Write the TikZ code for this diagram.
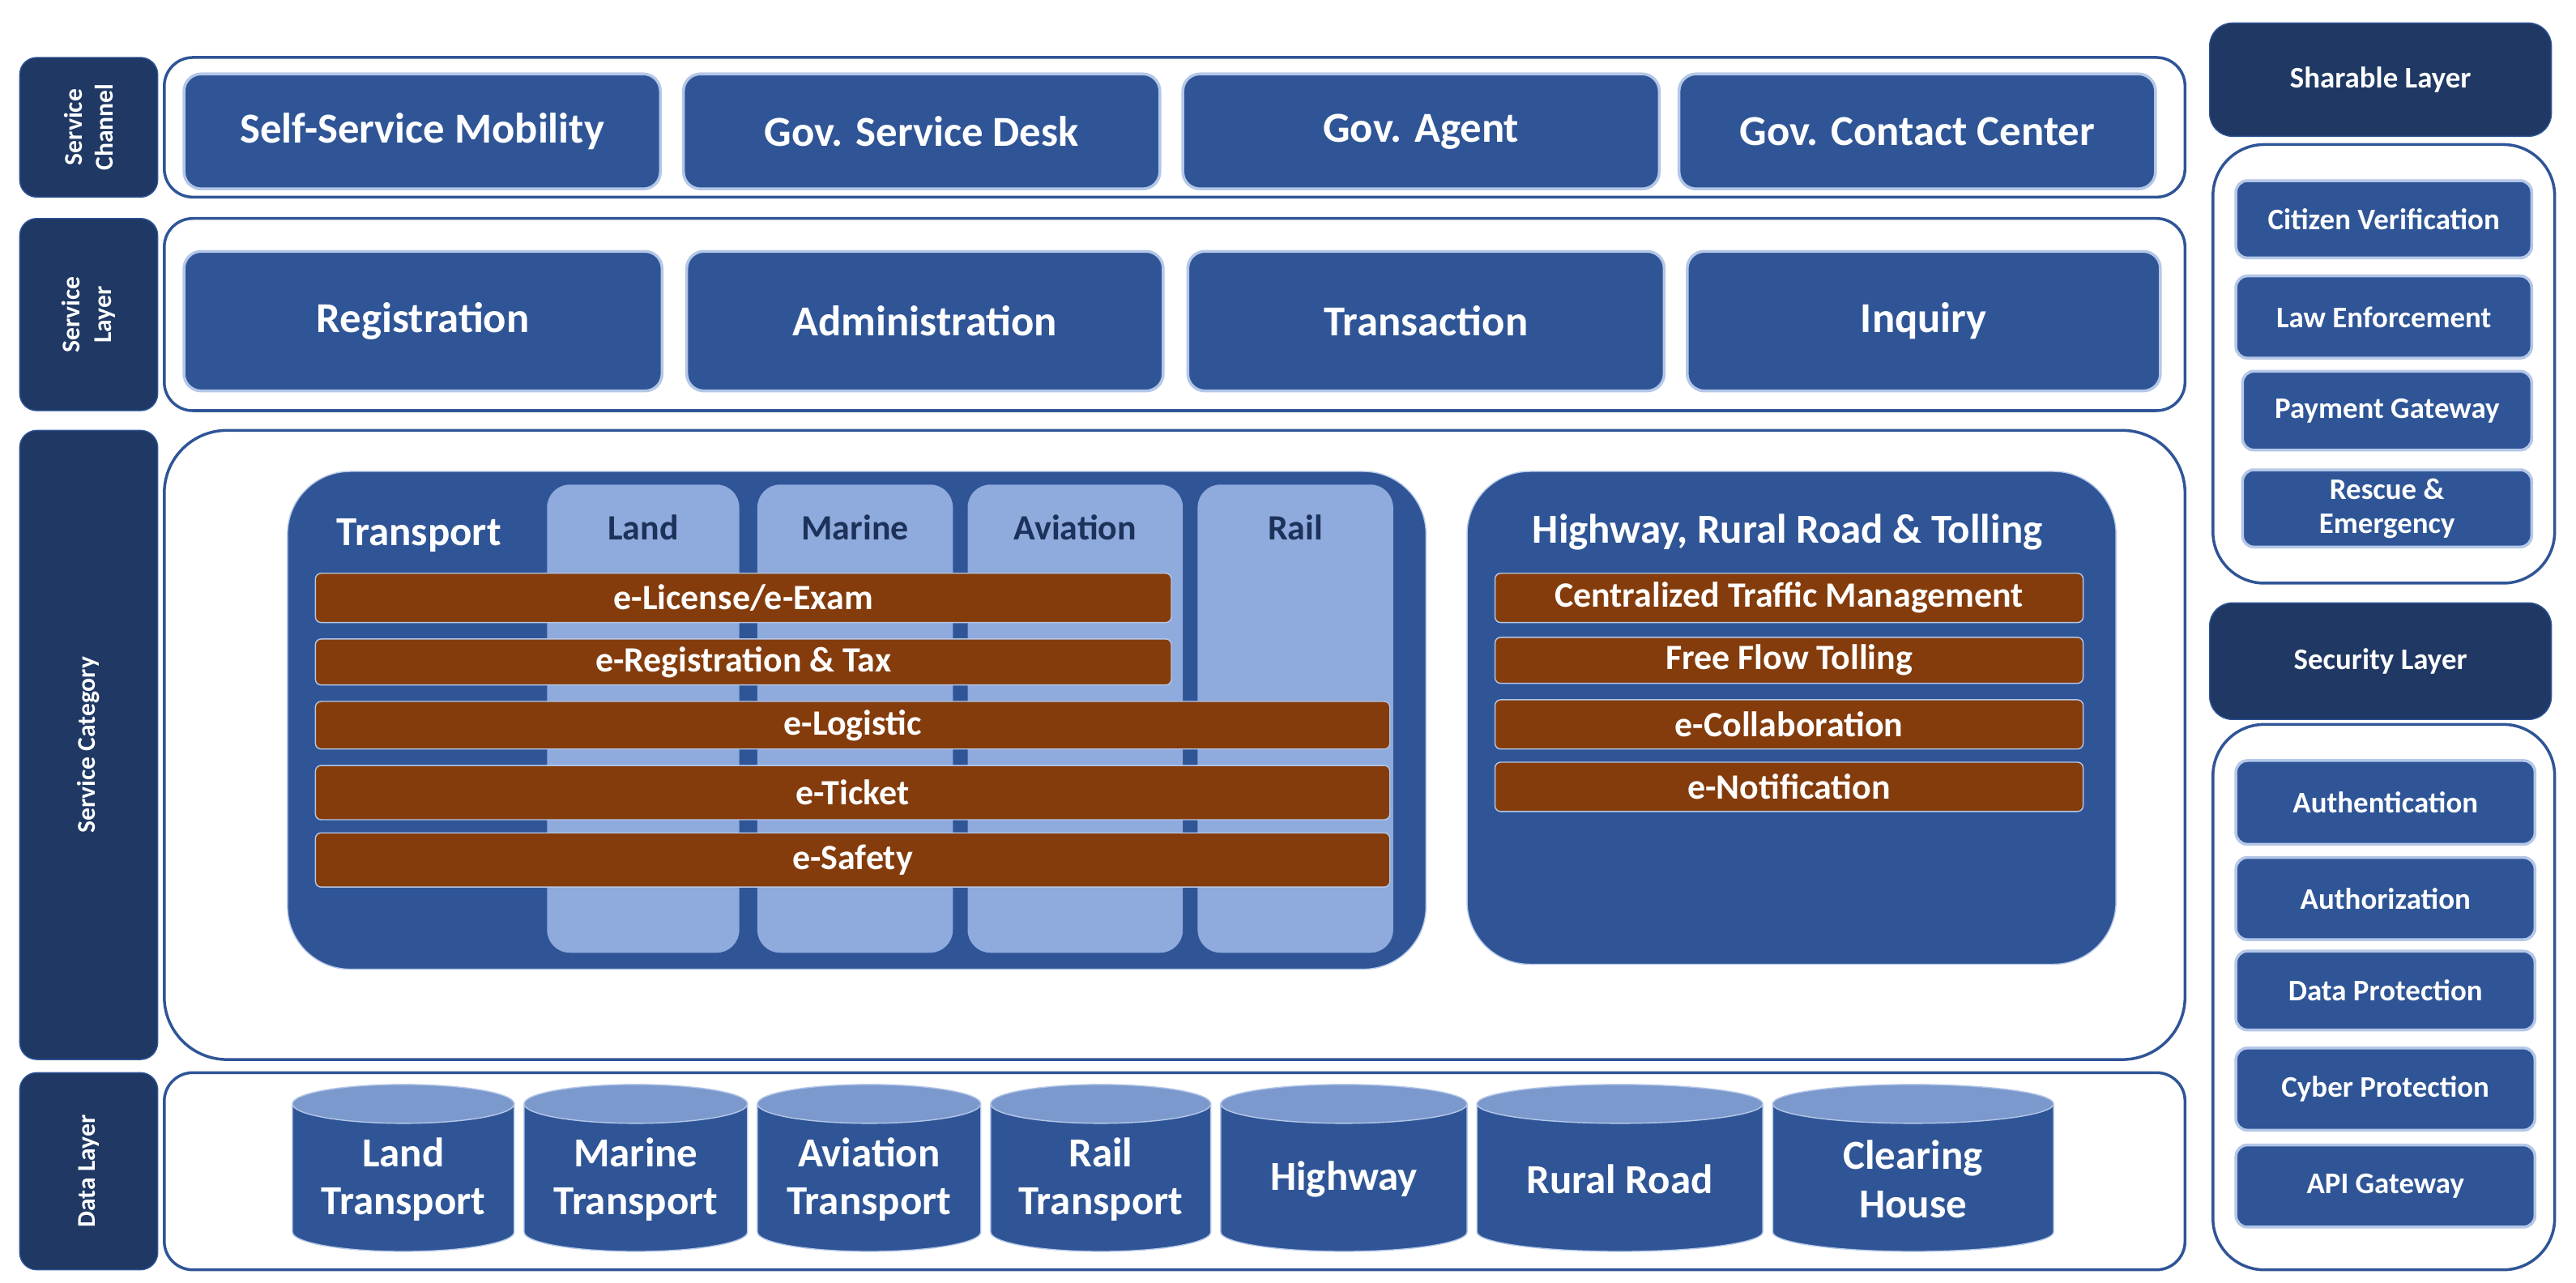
\documentclass[tikz,border=0pt]{standalone}
\usepackage{fontspec}
\setmainfont{Carlito}
\usetikzlibrary{positioning,fit}
\definecolor{navy}{HTML}{1F3864}
\definecolor{midblue}{HTML}{2F5597}
\definecolor{lightblue}{HTML}{8FAADC}
\definecolor{paleblue}{HTML}{B4C7E7}
\definecolor{rust}{HTML}{843C0C}
\tikzset{
  side/.style={draw=midblue, fill=navy, rounded corners=6pt, inner sep=0pt},
  sidetext/.style={rotate=90, text=white, font=\bfseries\small, align=center},
  frame/.style={draw=midblue, line width=1pt, fill=white, rounded corners=10pt, inner sep=0pt},
  btn/.style={draw=paleblue, line width=1pt, fill=midblue, rounded corners=6pt, inner sep=0pt,
    label={[text=white, font=\bfseries\fontsize{15}{17}\selectfont]center:#1}},
  col/.style={fill=lightblue, rounded corners=8pt, inner sep=0pt},
  bar/.style={draw=paleblue, fill=rust, rounded corners=2pt, inner sep=0pt,
    label={[text=white, font=\bfseries\fontsize{12.5}{14}\selectfont]center:#1}},
  item/.style={draw=paleblue, line width=1pt, fill=midblue, rounded corners=4pt, inner sep=0pt,
    label={[text=white, align=center, font=\bfseries\fontsize{10.5}{12}\selectfont]center:#1}},
  head/.style={draw=midblue, fill=navy, rounded corners=8pt, inner sep=0pt,
    label={[text=white, font=\bfseries\fontsize{10.5}{12}\selectfont]center:#1}},
  dbbody/.style={fill=midblue, draw=paleblue},
  dbtop/.style={fill=lightblue!80!midblue, draw=paleblue},
}
% data store cylinder
\newcommand\dbcyl[4]{%
  \pgfmathsetmacro\rx{(#3-#2)/2*0.2028}
  \filldraw[dbbody] (#2,672) -- (#2,750) arc[start angle=180, end angle=360, x radius=\rx mm, y radius=2.4mm] -- (#3,672) -- cycle;
  \filldraw[dbtop] ({(#2+#3)/2},672) ellipse [x radius=\rx mm, y radius=2.4mm];
  \node[text=white, align=center, font=\bfseries\fontsize{14.5}{17}\selectfont] (#1) at ({(#2+#3)/2},718) {#4};}

\begin{document}
\begin{tikzpicture}[x=0.2028mm, y=-0.2028mm]
  \useasboundingbox (0,0) rectangle (1568,781);

  % left labels
  \node[side, fit={(12,35) (96,120)}] (lch) {};
  \node[sidetext] at (lch) {Service\\Channel};
  \node[side, fit={(12,133) (96,250)}] (lsl) {};
  \node[sidetext] at (lsl) {Service\\Layer};
  \node[side, fit={(12,262) (96,645)}] (lsc) {};
  \node[sidetext] at (lsc) {Service Category};
  \node[side, fit={(12,653) (96,773)}] (ldl) {};
  \node[sidetext] at (ldl) {Data Layer};

  % frames
  \node[frame, fit={(100,35) (1330,120)}] (fch) {};
  \node[frame, fit={(100,133) (1330,250)}] (fsl) {};
  \node[frame, rounded corners=22pt, fit={(100,262) (1330,645)}] (fsc) {};
  \node[frame, fit={(100,653) (1330,773)}] (fdl) {};

  % service channel
  \node[btn=Self-Service Mobility, fit={(112,45) (402,115)}] (ssm) {};
  \node[btn=Gov. Service Desk, fit={(416,45) (706,115)}] (gsd) {};
  \node[btn=Gov. Agent, fit={(720,45) (1010,115)}] (gag) {};
  \node[btn=Gov. Contact Center, fit={(1022,45) (1312,115)}] (gcc) {};

  % service layer
  \node[btn=Registration, fit={(112,153) (403,238)}] (reg) {};
  \node[btn=Administration, fit={(418,153) (708,238)}] (adm) {};
  \node[btn=Transaction, fit={(723,153) (1013,238)}] (trx) {};
  \node[btn=Inquiry, fit={(1027,153) (1315,238)}] (inq) {};

  % transport
  \node[fill=midblue, draw=paleblue, rounded corners=22pt, inner sep=0pt, fit={(175,287) (868,590)}] (tr) {};
  \node[col, fit={(333,295) (450,580)}] (cland) {};
  \node[col, fit={(461,295) (580,580)}] (cmar) {};
  \node[col, fit={(589,295) (720,580)}] (cavi) {};
  \node[col, fit={(729,295) (848,580)}] (crail) {};
  \foreach \c/\t in {cland/Land, cmar/Marine, cavi/Aviation, crail/Rail}
    \node[font=\bfseries\fontsize{12.5}{14}\selectfont, text=navy!90!black] at ([yshift=-5.4mm]\c.north) {\t};
  \node[text=white, font=\bfseries\fontsize{14.5}{16}\selectfont] at (255,326) {Transport};
  \node[bar={e-License/e-Exam}, fit={(192,349) (713,379)}] (elic) {};
  \node[bar={e-Registration \& Tax}, fit={(192,389) (713,417)}] (ereg) {};
  \node[bar={e-Logistic}, fit={(192,427) (846,456)}] (elog) {};
  \node[bar={e-Ticket}, fit={(192,466) (846,499)}] (etic) {};
  \node[bar={e-Safety}, fit={(192,507) (846,540)}] (esaf) {};

  % highway
  \node[fill=midblue, draw=paleblue, rounded corners=22pt, inner sep=0pt, fit={(893,287) (1288,587)}] (hw) {};
  \node[text=white, font=\bfseries\fontsize{14.5}{16}\selectfont] at (1088,324) {Highway, Rural Road \& Tolling};
  \node[bar={Centralized Traffic Management}, fit={(910,349) (1268,379)}] (ctm) {};
  \node[bar={Free Flow Tolling}, fit={(910,388) (1268,416)}] (fft) {};
  \node[bar={e-Collaboration}, fit={(910,426) (1268,456)}] (ecol) {};
  \node[bar={e-Notification}, fit={(910,464) (1268,494)}] (enot) {};

  % data layer
  \dbcyl{dland}{178}{313}{Land\\Transport}
  \dbcyl{dmar}{319}{455}{Marine\\Transport}
  \dbcyl{davi}{461}{597}{Aviation\\Transport}
  \dbcyl{drail}{603}{737}{Rail\\Transport}
  \dbcyl{dhw}{743}{893}{Highway}
  \dbcyl{drr}{899}{1073}{Rural Road}
  \dbcyl{dch}{1079}{1250}{Clearing\\House}

  % sharable layer
  \node[head=Sharable Layer, fit={(1345,14) (1553,83)}] (sh) {};
  \node[frame, rounded corners=18pt, fit={(1347,88) (1555,355)}] (shf) {};
  \node[item=Citizen Verification, fit={(1361,110) (1541,157)}] (cv) {};
  \node[item=Law Enforcement, fit={(1361,168) (1541,218)}] (le) {};
  \node[item=Payment Gateway, fit={(1365,226) (1541,274)}] (pg) {};
  \node[item={Rescue \&\\Emergency}, fit={(1365,286) (1541,333)}] (re) {};

  % security layer
  \node[head=Security Layer, fit={(1345,367) (1553,438)}] (se) {};
  \node[frame, rounded corners=18pt, fit={(1347,441) (1555,773)}] (sef) {};
  \node[item=Authentication, fit={(1361,463) (1543,514)}] (au) {};
  \node[item=Authorization, fit={(1361,522) (1543,572)}] (az) {};
  \node[item=Data Protection, fit={(1361,579) (1543,627)}] (dp) {};
  \node[item=Cyber Protection, fit={(1361,638) (1543,688)}] (cp) {};
  \node[item=API Gateway, fit={(1361,697) (1543,747)}] (api) {};
\end{tikzpicture}
\end{document}
